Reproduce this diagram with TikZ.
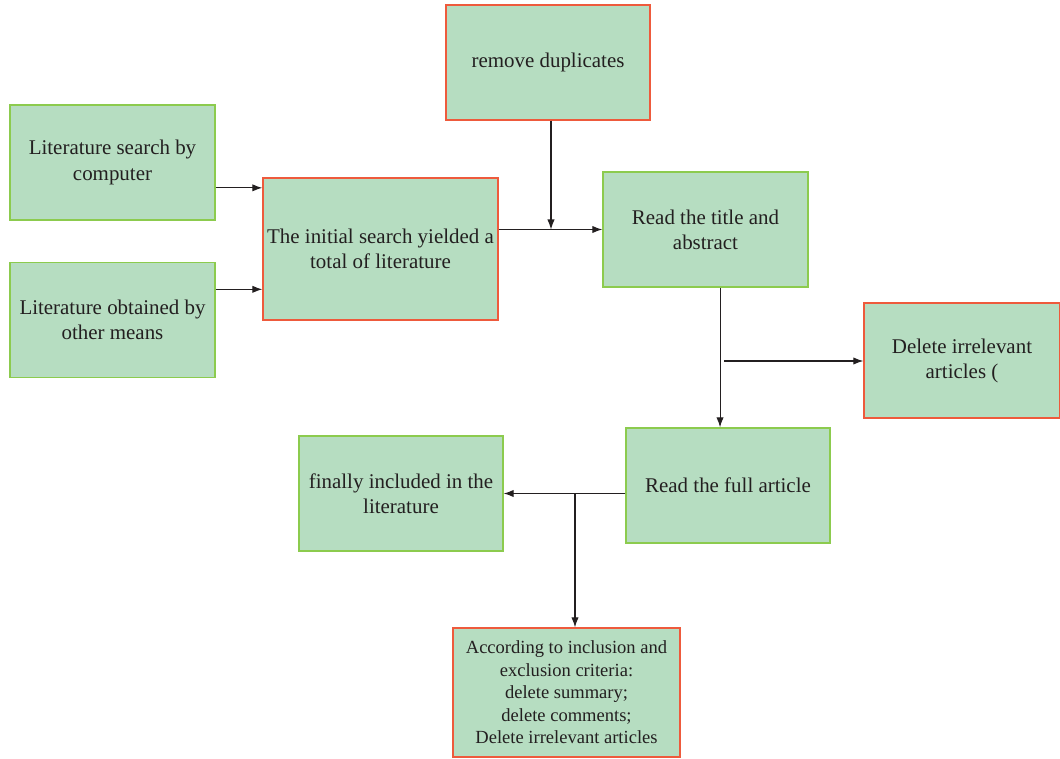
\documentclass[tikz,border=0pt]{standalone}
\usepackage{fontspec}
\setmainfont{Liberation Serif}
\usetikzlibrary{arrows.meta}
\definecolor{boxfill}{HTML}{B6DDC1}
\definecolor{greenline}{HTML}{8CCB4E}
\definecolor{redline}{HTML}{EE5A3C}
\definecolor{inkline}{HTML}{231F20}

\begin{document}
\begin{tikzpicture}[x=0.75pt,y=-0.75pt,
    box/.style={draw=greenline, fill=boxfill, line width=1pt, align=center,
      inner sep=2pt, text=inkline, font=\fontsize{15.7}{18.8}\selectfont,
      minimum width=153.75pt, minimum height=86.25pt},
    redbox/.style={box, draw=redline},
    arr/.style={-{Latex[length=7.5pt,width=5.5pt]}, draw=inkline, line width=0.8pt}]
    \useasboundingbox (0,0) rectangle (1060,759);

    \node[redbox, minimum width=153pt] (remove) at (548,62.5) {remove duplicates};
    \node[box] (litcomp) at (112.5,162.5) {Literature search by\\computer};
    \node[box] (litother) at (112.5,320) {Literature obtained by\\other means};
    \node[redbox, minimum width=176.25pt, minimum height=106.5pt] (init) at (380.5,249)
        {The initial search yielded a\\total of literature};
    \node[box] (title) at (705.5,229.5) {Read the title and\\abstract};
    \node[redbox, minimum width=147pt] (del) at (962,360.5) {Delete irrelevant\\articles (};
    \node[box, minimum width=153pt] (full) at (728,485.5) {Read the full article};
    \node[box, minimum width=153pt] (final) at (401,493.5) {finally included in the\\literature};
    \node[redbox, minimum width=170.25pt, minimum height=96.75pt,
        font=\fontsize{13.9}{16.9}\selectfont] (crit) at (566.5,692.5)
        {According to inclusion and\\exclusion criteria:\\delete summary;\\delete comments;\\Delete irrelevant articles};

    % branch points
    \coordinate (dbranch) at (724,361);
    \coordinate (fbranch) at (575,493);

    \draw[arr] ([yshift=-19pt]litcomp.east) coordinate (p1) -- (p1 -| init.west);
    \draw[arr] ([yshift=23pt]litother.east) coordinate (p2) -- (p2 -| init.west);
    \draw[arr] (init.east |- title.west) -- (title.west);
    \draw[arr] ([xshift=2.25pt]remove.south) coordinate (p3) -- (p3 |- title.west);
    \draw[arr] ([xshift=10.9pt]title.south) coordinate (p4) -- (p4 |- full.north);
    \draw[arr] (dbranch) -- (dbranch -| del.west);
    \draw[arr] (final.east -| full.west) -- (final.east);
    \draw[arr] (fbranch) -- (fbranch |- crit.north);
\end{tikzpicture}
\end{document}
